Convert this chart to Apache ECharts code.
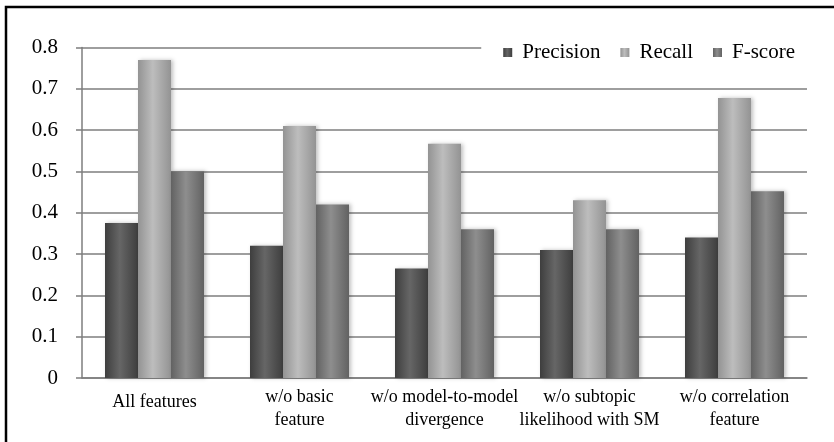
<!DOCTYPE html>
<html>
<head>
<meta charset="utf-8">
<script src="https://cdn.jsdelivr.net/npm/echarts@6/dist/echarts.min.js"></script>
<style>
  html, body { margin: 0; padding: 0; background: #fff; }
  #main { width: 834px; height: 442px; }
</style>
</head>
<body>
<div id="main"></div>
<script>
// 数据
var categories = ['All features', 'w/o basic\nfeature', 'w/o model-to-model\ndivergence', 'w/o subtopic\nlikelihood with SM', 'w/o correlation\nfeature'];
var precision = [0.375, 0.32, 0.265, 0.31, 0.34];
var recall = [0.77, 0.61, 0.567, 0.43, 0.678];
var fscore = [0.50, 0.42, 0.36, 0.36, 0.452];
var yTicks = [0, 0.1, 0.2, 0.3, 0.4, 0.5, 0.6, 0.7, 0.8];

var fontName = '"Liberation Serif", "DejaVu Serif", serif';
var lineGray = '#7e7e7e';

// 柱子的横向渐变
function barColor (edge, mid) {
  return new echarts.graphic.LinearGradient(0, 0, 1, 0, [
    { offset: 0, color: edge },
    { offset: 0.45, color: mid },
    { offset: 1, color: edge }
  ]);
}

function barSeries (name, data, edge, mid) {
  return {
    name: name,
    type: 'bar',
    data: data,
    barWidth: 33,
    barGap: '0%',
    itemStyle: {
      color: barColor(edge, mid),
      shadowColor: 'rgba(0,0,0,0.25)',
      shadowBlur: 4,
      shadowOffsetX: 2
    }
  };
}

var chart = echarts.init(document.getElementById('main'));
var option = {
  backgroundColor: '#fff',
  animation: false,
  textStyle: { fontFamily: fontName },
  graphic: [{
    type: 'rect',
    shape: { x: 6, y: 7, width: 900, height: 600 },
    style: { fill: 'none', stroke: '#000', lineWidth: 2.5 },
    silent: true
  }],
  grid: {
    left: 82,
    right: 27,
    top: 47.5,
    bottom: 64
  },
  legend: {
    right: 27,
    top: 36,
    padding: [6, 12, 6, 22],
    backgroundColor: '#fff',
    itemWidth: 9,
    itemHeight: 9,
    itemGap: 20,
    icon: 'rect',
    textStyle: { fontFamily: fontName, fontSize: 21, color: '#000', padding: [0, 0, 0, 5] },
    data: ['Precision', 'Recall', 'F-score']
  },
  xAxis: {
    type: 'category',
    data: categories,
    axisLine: { lineStyle: { color: lineGray, width: 1.5 } },
    axisTick: { show: false },
    axisLabel: {
      interval: 0,
      margin: 8,
      color: '#000',
      fontFamily: fontName,
      fontSize: 18,
      lineHeight: 23,
      formatter: function (v) {
        return v.indexOf('\n') < 0 ? '{one|' + v + '}' : v;
      },
      rich: {
        one: { fontFamily: fontName, fontSize: 18, color: '#000', padding: [10, 0, 0, 0] }
      }
    }
  },
  yAxis: {
    type: 'value',
    min: yTicks[0],
    max: yTicks[yTicks.length - 1],
    interval: 0.1,
    axisLine: { show: true, lineStyle: { color: lineGray, width: 1.5 } },
    axisTick: { show: true, length: 6, lineStyle: { color: lineGray, width: 1.5 } },
    splitLine: { lineStyle: { color: lineGray, width: 1.5 } },
    axisLabel: {
      color: '#000',
      fontFamily: fontName,
      fontSize: 21,
      margin: 24,
      formatter: function (v) { return String(Math.round(v * 10) / 10); }
    }
  },
  series: [
    barSeries('Precision', precision, '#3e3e3e', '#666666'),
    barSeries('Recall', recall, '#939393', '#bdbdbd'),
    barSeries('F-score', fscore, '#626262', '#8e8e8e')
  ]
};
chart.setOption(option, true);
</script>
</body>
</html>
